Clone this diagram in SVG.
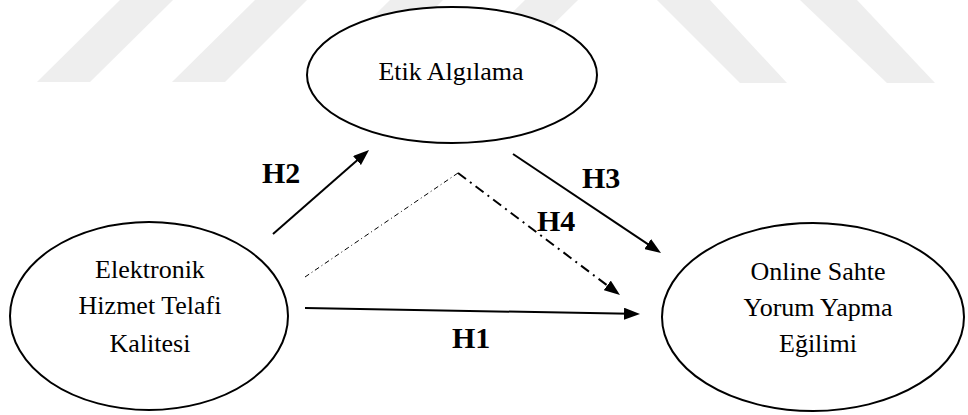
<svg xmlns="http://www.w3.org/2000/svg" width="968" height="415" viewBox="0 0 968 415">
  <style>
    .band { fill: #eeeeee; }
    .node ellipse { fill: #ffffff; stroke: #000000; stroke-width: 2; }
    .node text { font-family: "Liberation Serif", "Times New Roman", serif; font-size: 26px; fill: #000000; text-anchor: middle; }
    .edge { stroke: #000000; stroke-width: 2; fill: none; }
    .dashdot { stroke-dasharray: 10 5 2 5; }
    .dashdot-thin { stroke-width: 1; stroke-dasharray: 5 3 1 3; }
    .label { font-family: "Liberation Serif", "Times New Roman", serif; font-size: 30px; font-weight: bold; fill: #000000; }
  </style>
  <defs>
    <marker id="arrow" viewBox="0 0 16 12" refX="6" refY="6" markerWidth="16" markerHeight="12" markerUnits="userSpaceOnUse" orient="auto">
      <path d="M0,0 L16,6 L0,12 z" fill="#000000"/>
    </marker>
  </defs>

  <rect width="968" height="415" fill="#ffffff"/>

  <!-- light background bands -->
  <g id="background">
    <polygon class="band" points="37,82 90,82 173,0 120,0"/>
    <polygon class="band" points="172,82 225,82 307,0 255,0"/>
    <polygon class="band" points="307,82 360,82 443,0 390,0"/>
    <polygon class="band" points="442,82 495,82 578,0 525,0"/>
    <polygon class="band" points="657,0 710,0 787,83 740,83"/>
    <polygon class="band" points="800,0 857,0 935,83 887,83"/>
  </g>

  <g id="node-etik" class="node">
    <ellipse cx="452" cy="75" rx="145" ry="68"/>
    <text x="451" y="80">Etik Algılama</text>
  </g>

  <g id="node-elektronik" class="node">
    <ellipse cx="149" cy="316" rx="139" ry="94"/>
    <text x="150" y="278">Elektronik</text>
    <text x="150" y="314">Hizmet Telafi</text>
    <text x="150" y="352">Kalitesi</text>
  </g>

  <g id="node-online" class="node">
    <ellipse cx="813" cy="317" rx="151" ry="94"/>
    <text x="818" y="280">Online Sahte</text>
    <text x="818" y="316">Yorum Yapma</text>
    <text x="818" y="352">Eğilimi</text>
  </g>

  <g id="connectors">
    <!-- H2 -->
    <line class="edge" x1="273" y1="234" x2="361.5" y2="156.6" marker-end="url(#arrow)"/>
    <!-- H3 -->
    <line class="edge" x1="513" y1="154" x2="652.7" y2="247.4" marker-end="url(#arrow)"/>
    <!-- H1 -->
    <line class="edge" x1="305" y1="308" x2="630" y2="313.8" marker-end="url(#arrow)"/>
    <!-- H4 -->
    <line class="edge dashdot-thin" x1="305" y1="277" x2="458" y2="173"/>
    <line class="edge dashdot" x1="458" y1="173" x2="612" y2="289" marker-end="url(#arrow)"/>
  </g>

  <g id="labels">
    <text class="label" x="262" y="183">H2</text>
    <text class="label" x="582" y="188">H3</text>
    <text class="label" x="537" y="231">H4</text>
    <text class="label" x="452" y="348">H1</text>
  </g>
</svg>
